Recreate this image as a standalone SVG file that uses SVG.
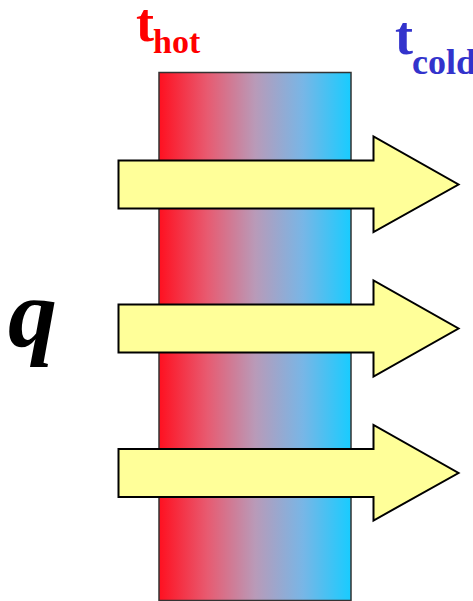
<svg xmlns="http://www.w3.org/2000/svg" width="473" height="601" viewBox="0 0 473 601">
  <defs>
    <linearGradient id="wallGrad" x1="0" y1="0" x2="1" y2="0">
      <stop offset="0" stop-color="#FF1020"/>
      <stop offset="0.25" stop-color="#E85A70"/>
      <stop offset="0.5" stop-color="#B99AB8"/>
      <stop offset="0.75" stop-color="#78B6E6"/>
      <stop offset="1" stop-color="#18CCFF"/>
    </linearGradient>
    <style>
      .arrow { fill: #FFFF99; stroke: #000000; stroke-width: 2; stroke-linejoin: miter; }
      .wall { fill: url(#wallGrad); stroke: #333333; stroke-width: 1.5; }
      .lbl { font-family: "Liberation Serif", "Times New Roman", serif; font-weight: bold; }
    </style>
  </defs>
  <rect width="473" height="601" fill="#FFFFFF"/>
  <g id="wall">
    <rect class="wall" x="159" y="72.5" width="192" height="528"/>
  </g>
  <g id="connectors">
    <polygon class="arrow" points="118.5,160.5 373.5,160.5 373.5,136.5 458.5,184.5 373.5,232 373.5,208.5 118.5,208.5"/>
    <polygon class="arrow" points="118.5,304.5 373.5,304.5 373.5,280.5 458.5,328.5 373.5,376.5 373.5,352.5 118.5,352.5"/>
    <polygon class="arrow" points="118.5,449 373.5,449 373.5,425 458.5,473 373.5,520.5 373.5,497 118.5,497"/>
  </g>
  <g id="label-hot">
    <text class="lbl" x="136" y="41" font-size="54" fill="#FF0000">t</text>
    <text class="lbl" x="153" y="53" font-size="34" fill="#FF0000">hot</text>
  </g>
  <g id="label-cold">
    <text class="lbl" x="395" y="54" font-size="54" fill="#3333CC">t</text>
    <text class="lbl" x="412" y="74" font-size="36" fill="#3333CC">cold</text>
  </g>
  <g id="label-q">
    <text class="lbl" x="8" y="346" font-size="98" font-style="italic" fill="#000000">q</text>
  </g>
</svg>
